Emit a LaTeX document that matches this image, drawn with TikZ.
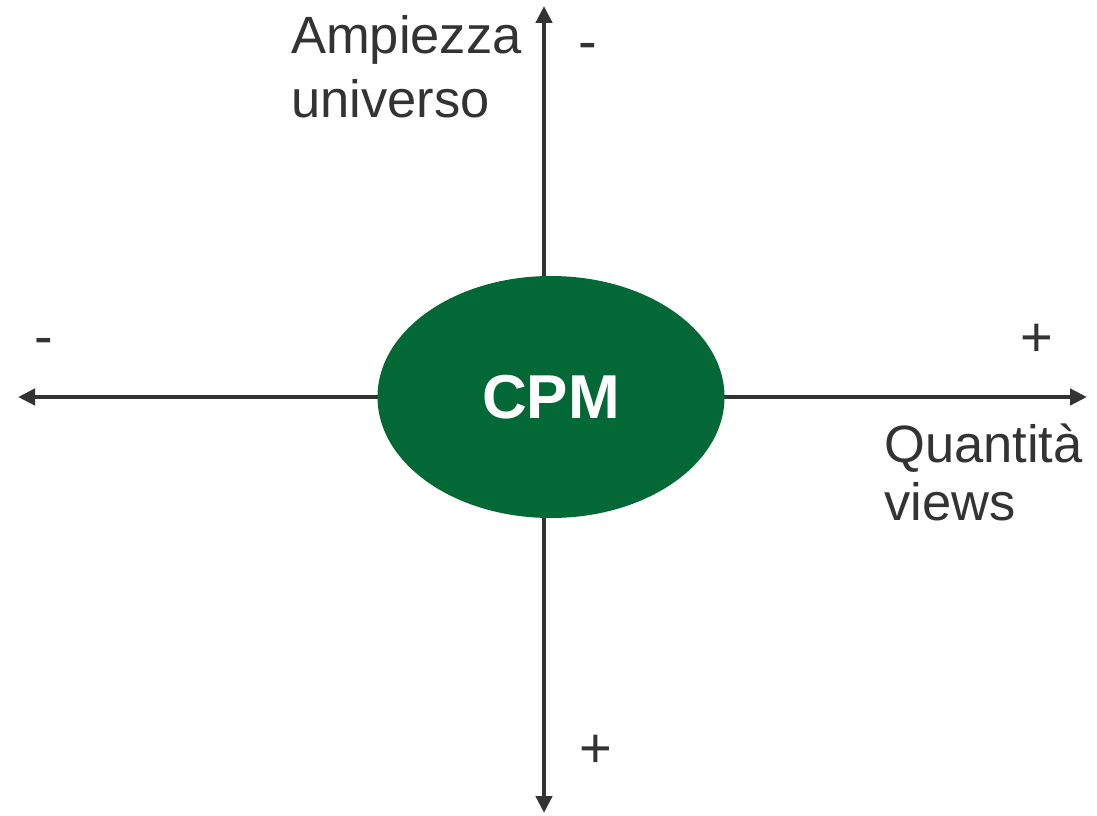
\documentclass[tikz,border=0pt]{standalone}
\usepackage{fontspec}
\setmainfont{Liberation Sans}
\usetikzlibrary{arrows.meta,shapes.geometric}
\definecolor{axisgray}{RGB}{51,51,51}
\definecolor{cpmgreen}{RGB}{2,104,54}
\tikzset{
  axis/.style={draw=axisgray, line width=4.6pt, -{Triangle[length=17pt,width=16pt]}},
  lbl/.style={text=axisgray, inner sep=0pt, font=\fontsize{52.5}{64}\selectfont, align=left},
  sign/.style={text=axisgray, inner sep=0pt, font=\fontsize{56}{60}\selectfont, anchor=base},
  cpm/.style={ellipse, fill=cpmgreen, minimum width=347pt, minimum height=242pt, inner sep=0pt,
    text=white, font=\fontsize{62}{70}\selectfont\bfseries}
}
\begin{document}
\begin{tikzpicture}[x=1pt,y=-1pt]
\useasboundingbox (0,0) rectangle (1097,816);
\coordinate (top) at (544,6);
\coordinate (bot) at (544,813);
\coordinate (lft) at (18,397);
\coordinate (rgt) at (1087,397);
\coordinate (vmid) at (544,397);
\draw[axis] (vmid) -- (top);
\draw[axis] (vmid) -- (bot);
\draw[axis] (vmid) -- (lft);
\draw[axis] (vmid) -- (rgt);
\node[cpm] (cpm) at (551,397) {CPM};
\node[lbl, anchor=base west] (amp) at (291,117) {Ampiezza\\universo};
\node[lbl, anchor=base west, font=\fontsize{52.5}{58}\selectfont] (qv) at (884,520) {Quantità\\views};
\node[sign] (mtop) at (588,60) {-};
\node[sign] (mlft) at (44,355) {-};
\node[sign] (prgt) at (1037,356) {+};
\node[sign] (pbot) at (596,767) {+};
\end{tikzpicture}
\end{document}
